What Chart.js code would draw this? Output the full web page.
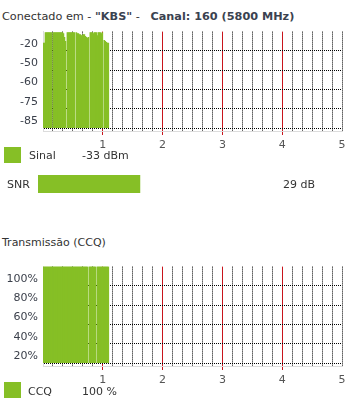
<!DOCTYPE html>
<html>
<head>
<meta charset="utf-8">
<script src="https://cdn.jsdelivr.net/npm/chart.js@4/dist/chart.umd.min.js"></script>
<style>
  html, body { margin: 0; padding: 0; background: #fff; }
  body { width: 359px; height: 403px; position: relative; overflow: hidden;
         font-family: "DejaVu Sans", Verdana, sans-serif; font-size: 11px; color: #333; }
  .t { position: absolute; white-space: pre; line-height: 14px; }
  .b { font-weight: bold; color: #3a4250; }
  .sw { position: absolute; width: 17px; height: 16px; background: #86bf26; }
  canvas { position: absolute; }
</style>
</head>
<body>
<div class="t" style="left:2px; top:10px; font-size:11.25px;">Conectado em - <span class="b">"KBS"</span> -   <span class="b">Canal: 160 (5800 MHz)</span></div>
<canvas id="sig" width="359" height="130" style="left:0; top:20px;"></canvas>
<div class="sw" style="left:4px; top:147px;"></div>
<div class="t" style="left:29px; top:149px;">Sinal</div>
<div class="t" style="left:82px; top:149px;">-33 dBm</div>
<div class="t" style="left:7px; top:178px;">SNR</div>
<canvas id="snr" width="246" height="18" style="left:38px; top:175px;"></canvas>
<div class="t" style="left:283px; top:178px;">29 dB</div>
<div class="t" style="left:2px; top:236px;">Transmissão (CCQ)</div>
<canvas id="ccq" width="359" height="130" style="left:0; top:255px;"></canvas>
<div class="sw" style="left:4px; top:382px;"></div>
<div class="t" style="left:28px; top:385px;">CCQ</div>
<div class="t" style="left:82px; top:385px;">100 %</div>
<script>
// ---- data ----
const xTickLabels = ['1', '2', '3', '4', '5'];
const signalTickLabels = ['-85', '-75', '-60', '-50', '-20'];
const ccqTickLabels = ['20%', '40%', '60%', '80%', '100%'];
const sampleStep = 1 / 60; // time units per sample
// signal samples (position on the chart's level scale, null = gap)
const signalLevels = [
  4.4, 4.4, 4.95, 4.95, 4.95, 4.95, 4.95, 4.95, 4.95, null,
  4.95, 4.95, 4.95, 4.95, 4.95, 4.95, 4.95, 4.95, 4.95, 4.95,
  4.9, 4.7, 4.5, null,
  4.95, 4.95, 4.95, 4.95, 4.95, 4.95, 4.95, 4.95, null,
  4.95, 4.9, 4.9, 4.85, 4.85, 4.8, 4.8, 4.85, 4.85, 4.75, 4.7, 4.65, 4.7, null,
  4.95, 4.95, 4.95, 4.9, 4.95, 4.95, 4.95, 4.8, 4.95, 4.95, 4.95, 4.9, 4.95, null,
  4.55, 4.5, 4.45, 4.4, 4.4];
const ccqValues = [
  100, 100, 100, 100, 100, 100, 100, 100, 100, 100,
  100, 100, 100, 100, 100, 100, 100, 100, 100, 100,
  100, 100, 100, 100, 100, 100, 100, 100, 100, 100,
  100, 100, 100, 100, 100, 100, 100, 100, 100, 100,
  100, 100, 100, 100, 100, null, 100, 100, 100, 100,
  100, 100, 100, null, 100, 100, 100, 100, 100, 100,
  100, 100, 100, 100, 100, 100];
const snrValue = 29;
const snrMax = 70;

const GREEN = '#86bf26';
const RED = '#c8141c';
const NONE = 'rgba(0,0,0,0)';
Chart.defaults.font.family = '"DejaVu Sans", Verdana, sans-serif';
Chart.defaults.font.size = 11;
Chart.defaults.animation = false;

function pts(arr) { return arr.map((v, i) => ({ x: (i + 0.5) * sampleStep, y: v })); }
function isInt(v) { return Math.abs(v - Math.round(v)) < 1e-6; }
function tv(c) { return (c && c.tick) ? c.tick.value : 0; }
function isRed(v) { return isInt(v) && v > 0.5 && v < 4.5; }

function xScale() {
  return {
    type: 'linear', min: 0, max: 5, offset: false,
    afterBuildTicks: s => { const t = []; for (let k = 0; k <= 30; k++) t.push({ value: k / 6 }); s.ticks = t; },
    afterFit: s => { s.height = 19; },
    ticks: {
      autoSkip: false, maxRotation: 0, minRotation: 0, padding: 4, color: '#555',
      callback: (v) => (isInt(v) && v > 0.5) ? xTickLabels[Math.round(v) - 1] : ''
    },
    grid: {
      offset: false, tickLength: 4,
      color: c => { const v = tv(c); if (v < 1e-6) return NONE; return isRed(v) ? RED : '#000'; },
      tickColor: c => isRed(tv(c)) ? RED : NONE
    },
    border: {
      display: true, color: '#dcdcdc',
      dash: c => isRed(tv(c)) ? [] : [1, 1]
    }
  };
}
function yScale(min, max, step, labels) {
  return {
    type: 'linear', min: min, max: max,
    afterBuildTicks: s => { s.ticks = [0, 1, 2, 3, 4].map(k => ({ value: k * step })); },
    afterFit: s => { s.width = 43; },
    ticks: { padding: 5, labelOffset: -7, color: '#3a3f4a', callback: (v, i) => labels[i] },
    grid: { drawTicks: false, color: '#000' },
    border: { display: true, color: '#dcdcdc', dash: [1, 1] }
  };
}
function barChart(id, data, ymin, ymax, step, labels) {
  return new Chart(document.getElementById(id), {
    type: 'bar',
    data: { datasets: [{ data: pts(data), backgroundColor: GREEN, barPercentage: 1, categoryPercentage: 1, borderWidth: 0 }] },
    options: {
      responsive: false, devicePixelRatio: 1,
      layout: { padding: { top: 8, right: 17, left: 0, bottom: 0 } },
      plugins: { legend: { display: false }, tooltip: { enabled: false } },
      scales: { x: xScale(), y: yScale(ymin, ymax, step, labels) }
    }
  });
}
barChart('sig', signalLevels, -0.15, 5, 1, signalTickLabels);
barChart('ccq', ccqValues, -3, 100, 20, ccqTickLabels);

new Chart(document.getElementById('snr'), {
  type: 'bar',
  data: { labels: ['SNR'], datasets: [{ data: [snrValue], backgroundColor: GREEN, barPercentage: 1, categoryPercentage: 1, borderWidth: 0 }] },
  options: {
    indexAxis: 'y', responsive: false, devicePixelRatio: 1,
    layout: { padding: 0 },
    plugins: { legend: { display: false }, tooltip: { enabled: false } },
    scales: { x: { display: false, min: 0, max: snrMax }, y: { display: false } }
  }
});
</script>
</body>
</html>
